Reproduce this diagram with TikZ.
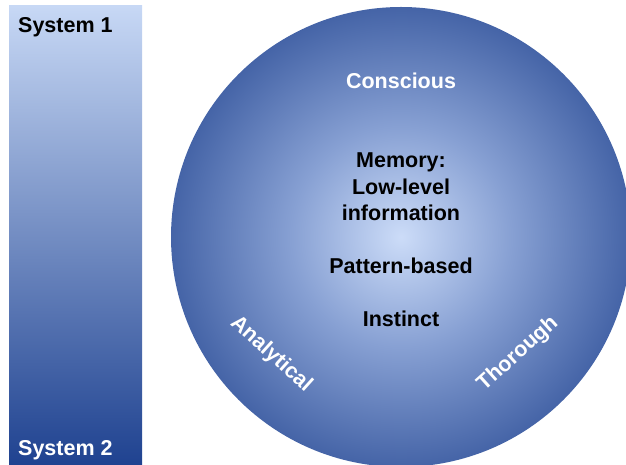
\documentclass[tikz,border=0pt]{standalone}
\usepackage{fontspec}
\setmainfont{Liberation Sans}
\definecolor{bartop}{HTML}{C7D8F5}
\definecolor{barbot}{HTML}{1F4290}
\definecolor{circin}{HTML}{CCDCF8}
\definecolor{circmid}{HTML}{87A0D3}
\definecolor{circout}{HTML}{4564A7}
\pgfdeclareradialshading{circshade}{\pgfpoint{0bp}{0bp}}{color(0bp)=(circin); color(12bp)=(circmid); color(25bp)=(circout); color(50bp)=(circout)}
\tikzset{
  lbl/.style={font=\bfseries\fontsize{21.5}{26.5}\selectfont, inner sep=0pt, align=center},
  wlbl/.style={lbl, text=white},
  blbl/.style={lbl, text=black}
}
\begin{document}
\begin{tikzpicture}[x=1pt,y=1pt]
\useasboundingbox (0,0) rectangle (626,465);
\clip (0,0) rectangle (626,465);
% left bar
\shade[top color=bartop, bottom color=barbot] (9,0) rectangle (142,459);
\node[blbl, anchor=west] (s1) at (18,438) {System 1};
\node[wlbl, anchor=west] (s2) at (18,15) {System 2};
% circle
\shade[shading=circshade] (401,228) circle (230);
\node[wlbl] (con) at (401,384) {Conscious};
\node[blbl] (mem) at (401,225) {Memory:\\Low-level\\information\\[26.5pt]Pattern-based\\[26.5pt]Instinct};
\node[wlbl, rotate=-42] (ana) at (271,111) {Analytical};
\node[wlbl, rotate=42] (tho) at (518,111) {Thorough};
\end{tikzpicture}
\end{document}
